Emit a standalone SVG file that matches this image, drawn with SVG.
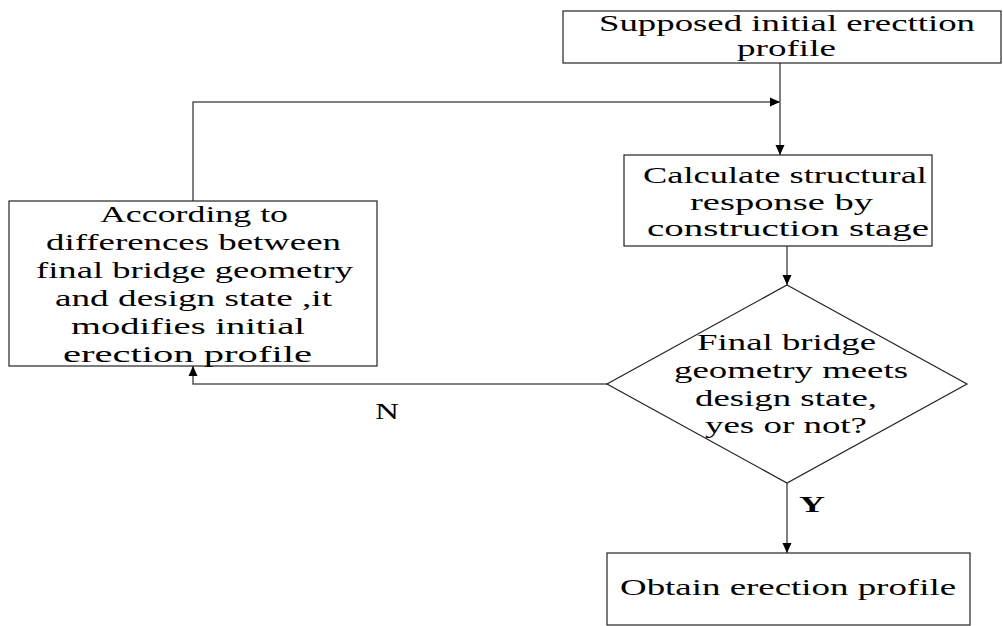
<svg xmlns="http://www.w3.org/2000/svg" width="1003" height="626" viewBox="0 0 1003 626">
<style>
.box{fill:#fff;stroke:#222;stroke-width:1.2}
.t{font-family:"Liberation Serif","Times New Roman",serif;font-size:24px;fill:#000;text-anchor:start}
.s{font-size:23px}
.c{fill:none;stroke:#555;stroke-width:1.5}
.b{font-weight:bold}
</style>
<defs>
<marker id="ah" viewBox="0 0 10 10" refX="10" refY="5" markerWidth="10" markerHeight="10" markerUnits="userSpaceOnUse" orient="auto">
<path d="M0,0.5 L10,5 L0,9.5 Z" fill="#000"/>
</marker>
</defs>
<rect width="1003" height="626" fill="#fff"/>
<g id="connectors">
<line class="c" x1="780" y1="63" x2="780" y2="155" marker-end="url(#ah)"/>
<polyline class="c" points="193,201 193,102 780,102" marker-end="url(#ah)"/>
<line class="c" x1="787" y1="246" x2="787" y2="285" marker-end="url(#ah)"/>
<polyline class="c" points="607,384 193,384 193,366" marker-end="url(#ah)"/>
<line class="c" x1="787" y1="483" x2="787" y2="553" marker-end="url(#ah)"/>
<text class="t" x="375" y="419" textLength="24" lengthAdjust="spacingAndGlyphs">N</text>
<text class="t b" x="799" y="512" textLength="26" lengthAdjust="spacingAndGlyphs">Y</text>
</g>
<g id="start">
<rect class="box" x="563" y="11" width="438" height="52"/>
<text class="t s" x="599" y="31" textLength="376" lengthAdjust="spacingAndGlyphs">Supposed initial erecttion</text>
<text class="t s" x="737" y="56" textLength="99" lengthAdjust="spacingAndGlyphs">profile</text>
</g>
<g id="calc">
<rect class="box" x="624" y="155" width="308" height="91"/>
<text class="t" x="643" y="183" textLength="284" lengthAdjust="spacingAndGlyphs">Calculate structural</text>
<text class="t" x="690" y="210" textLength="183" lengthAdjust="spacingAndGlyphs">response by</text>
<text class="t" x="647" y="236" textLength="282" lengthAdjust="spacingAndGlyphs">construction stage</text>
</g>
<g id="modify">
<rect class="box" x="9" y="201" width="368" height="165"/>
<text class="t" x="100" y="222" textLength="188" lengthAdjust="spacingAndGlyphs">According to</text>
<text class="t" x="46" y="250" textLength="295" lengthAdjust="spacingAndGlyphs">differences between</text>
<text class="t" x="36" y="278" textLength="317" lengthAdjust="spacingAndGlyphs">final bridge geometry</text>
<text class="t" x="55" y="306" textLength="277" lengthAdjust="spacingAndGlyphs">and design state ,it</text>
<text class="t" x="71" y="334" textLength="234" lengthAdjust="spacingAndGlyphs">modifies initial</text>
<text class="t" x="63" y="362" textLength="249" lengthAdjust="spacingAndGlyphs">erection profile</text>
</g>
<g id="decision">
<polygon class="box" points="787,285 967,384 787,483 607,384"/>
<text class="t" x="697" y="350" textLength="179" lengthAdjust="spacingAndGlyphs">Final bridge</text>
<text class="t" x="674" y="378" textLength="234" lengthAdjust="spacingAndGlyphs">geometry meets</text>
<text class="t" x="695" y="406" textLength="182" lengthAdjust="spacingAndGlyphs">design state,</text>
<text class="t" x="705" y="433" textLength="162" lengthAdjust="spacingAndGlyphs">yes or not?</text>
</g>
<g id="end">
<rect class="box" x="607" y="553" width="363" height="72"/>
<text class="t" x="620" y="595" textLength="336" lengthAdjust="spacingAndGlyphs">Obtain erection profile</text>
</g>
</svg>
